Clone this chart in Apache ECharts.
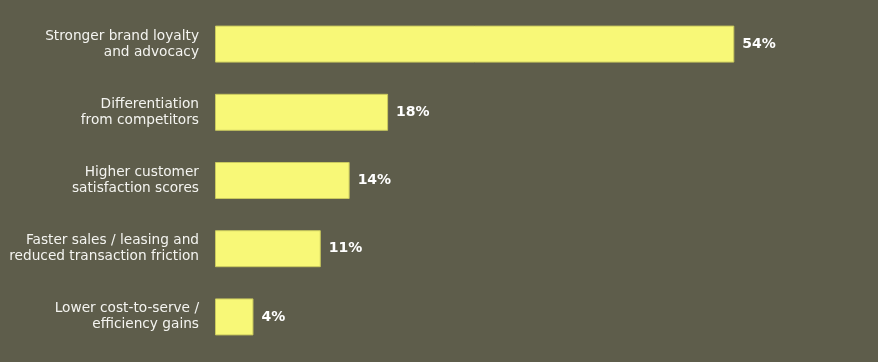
<!DOCTYPE html>
<html><head><meta charset="utf-8">
<script src="https://cdn.jsdelivr.net/npm/echarts@6/dist/echarts.min.js"></script>
<style>html,body{margin:0;padding:0;background:#5e5d4b;}#c{width:878px;height:362px;}</style>
</head><body><div id="c"></div>
<script>
const categories = [
  "Stronger brand loyalty\nand advocacy",
  "Differentiation\nfrom competitors",
  "Higher customer\nsatisfaction scores",
  "Faster sales / leasing and\nreduced transaction friction",
  "Lower cost-to-serve /\nefficiency gains"
];
const values = [54, 18, 14, 11, 4];

const chart = echarts.init(document.getElementById('c'), null, {renderer: 'canvas'});
chart.setOption({
  backgroundColor: '#5e5d4b',
  animation: false,
  grid: {left: 215, right: 86, top: 10, bottom: 11, containLabel: false},
  xAxis: {type: 'value', min: 0, max: 60, show: false},
  yAxis: {
    type: 'category', data: categories, inverse: true,
    axisLine: {show: false}, axisTick: {show: false}, splitLine: {show: false},
    axisLabel: {color: '#f4f4f0', fontFamily: 'DejaVu Sans', fontSize: 13.7, lineHeight: 16, margin: 16, align: 'right'}
  },
  series: [{
    type: 'bar', data: values, barWidth: 37,
    itemStyle: {color: '#f8f877', borderColor: '#c9c95e', borderWidth: 1},
    label: {show: true, position: 'right', distance: 8, formatter: '{c}%', color: '#ffffff', fontFamily: 'DejaVu Sans', fontWeight: 'bold', fontSize: 14}
  }]
});
</script></body></html>
